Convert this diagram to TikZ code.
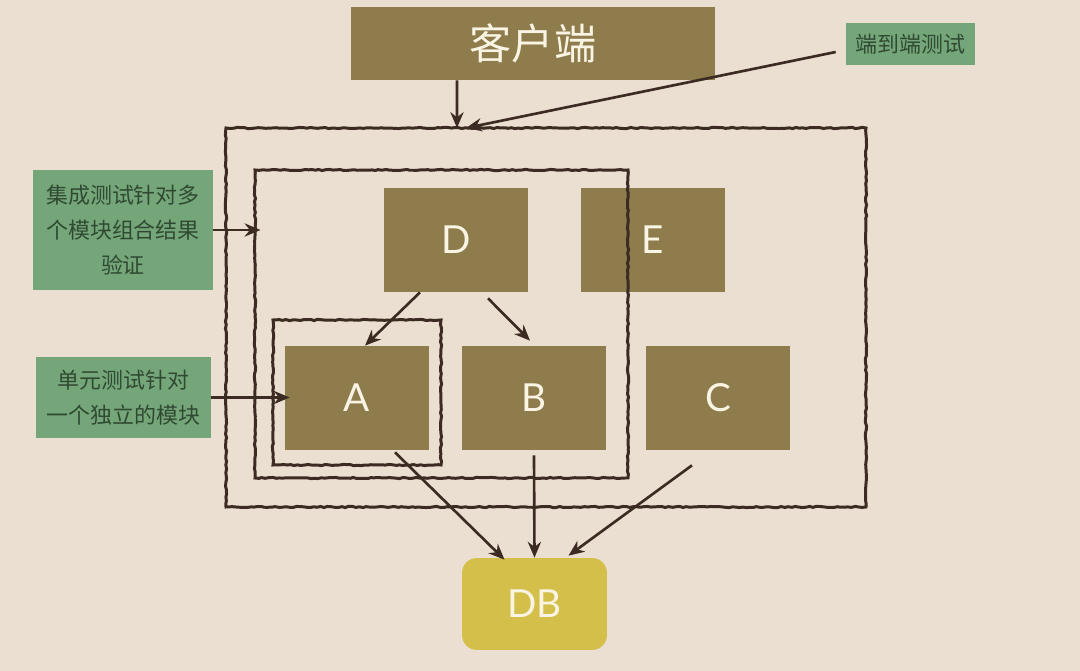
\documentclass[tikz,border=0pt]{standalone}
\usepackage{fontspec}
\newfontfamily\cjk{Noto Sans CJK SC}
\newfontfamily\letterfont{Lato}
\usetikzlibrary{fit, arrows.meta, decorations.pathmorphing}
\definecolor{paper}{RGB}{234,223,208}
\definecolor{olive}{RGB}{142,124,76}
\definecolor{sage}{RGB}{117,166,122}
\definecolor{sagetext}{RGB}{48,74,50}
\definecolor{dbyellow}{RGB}{213,191,75}
\definecolor{ink}{RGB}{59,43,34}
\definecolor{cream}{RGB}{250,244,228}
\tikzset{
	sketch/.style={
	draw=ink, line width=1.7pt, inner sep=0pt,
	decorate, decoration={random steps, segment length=2pt, amplitude=0.35pt}
	},
}

\begin{document}
\begin{tikzpicture}[x=0.02cm, y=-0.02cm, >={Stealth[length=9pt, width=7.5pt]}]

			\tikzstyle{module}=[rectangle, fill=olive, text=cream, minimum width=2.88cm, minimum height=2.08cm, font=\letterfont\fontsize{22}{22}\selectfont]
			\tikzstyle{label}=[rectangle, fill=sage, text=sagetext, align=center, font=\cjk\fontsize{12.5}{20}\selectfont]
			\tikzstyle{link}=[->, draw=ink, line width=1.5pt]

			\fill[paper] (0,0) rectangle (1080,671);
			\useasboundingbox (0,0) rectangle (1080,671);

			\node at (533,43.5) (client) [rectangle, fill=olive, text=cream, minimum width=7.3cm, minimum height=1.46cm, font=\cjk\fontsize{24}{24}\selectfont] {客户端};
			\node at (910.5,44) (e2elabel) [label, minimum width=2.58cm, minimum height=0.84cm] {端到端测试};
			\node at (123,230) (intlabel) [label, minimum width=3.6cm, minimum height=2.4cm] {集成测试针对多\\个模块组合结果\\验证};
			\node at (123.5,397.5) (unitlabel) [label, minimum width=3.5cm, minimum height=1.62cm] {单元测试针对\\一个独立的模块};

			\node at (456,240) (D) [module] {D};
			\node at (653,240) (E) [module] {E};
			\node at (357,398) (A) [module] {A};
			\node at (534,398) (B) [module] {B};
			\node at (718,398) (C) [module] {C};
			\node at (534.5,604) (DB) [rectangle, rounded corners=0.3cm, fill=dbyellow, text=cream, minimum width=2.9cm, minimum height=1.84cm, font=\letterfont\fontsize{22}{22}\selectfont] {DB};

			% test scopes
			\node[sketch, fit={(226,128) (866,507)}] (e2eframe) {};
			\node[sketch, fit={(255,170) (628,478)}] (intframe) {};
			\node[sketch, fit={(273,320) (441,465)}] (unitframe) {};

			\coordinate (clienthit) at (457,128);
			\coordinate (e2ehit) at (466,128);

			\draw[link] ([xshift=-1.52cm]client.south) -- (clienthit);
			\draw[link] ([xshift=-0.2cm, yshift=-0.16cm]e2elabel.west) -- (e2ehit);
			\draw[link] (intlabel.east) -- ([xshift=0.14cm]intlabel.east -| intframe.west);
			\draw[link] (unitlabel.east) -- ([xshift=0.1cm]unitlabel.east -| A.west);

			\draw[link] ([xshift=-0.72cm]D.south) -- ([xshift=0.16cm]A.north);
			\draw[link] ([xshift=0.64cm, yshift=-0.12cm]D.south) -- ([xshift=-0.08cm, yshift=0.1cm]B.north);
			\draw[link] ([xshift=0.76cm, yshift=-0.04cm]A.south) -- ([xshift=-0.6cm, yshift=-0.04cm]DB.north);
			\draw[link] ([yshift=-0.1cm]B.south) -- (DB.north);
			\draw[link] ([xshift=-0.52cm, yshift=-0.3cm]C.south) -- ([xshift=0.68cm, yshift=0.04cm]DB.north);
		\end{tikzpicture}
\end{document}
